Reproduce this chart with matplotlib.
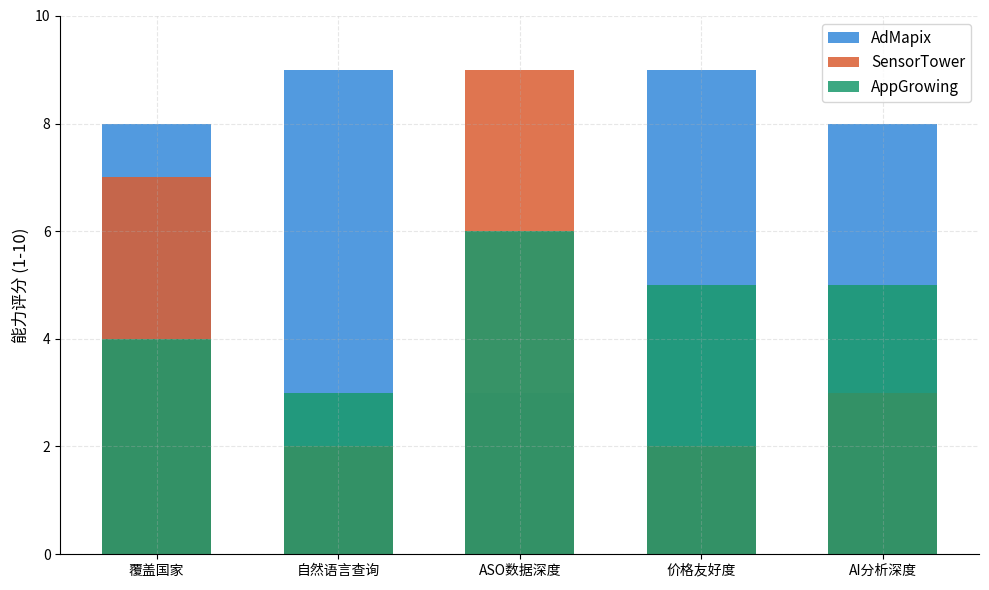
import numpy as np
import matplotlib.pyplot as plt

plt.rcParams['font.family'] = ['Noto Sans CJK SC', 'DejaVu Sans']

categories = ['覆盖国家', '自然语言查询', 'ASO数据深度', '价格友好度', 'AI分析深度']
admapix = [8, 9, 3, 9, 8]
sensortower = [7, 2, 9, 2, 3]
appgrowing = [4, 3, 6, 5, 5]

x = np.arange(len(categories))
w = 0.6

fig, ax = plt.subplots(figsize=(9.89, 5.90), dpi=100)
ax.bar(x, admapix, w, color='#3488DA', alpha=0.85, label='AdMapix')
ax.bar(x, sensortower, w, color='#DA5D31', alpha=0.85, label='SensorTower')
ax.bar(x, appgrowing, w, color='#1A996C', alpha=0.85, label='AppGrowing')

ax.set_xticks(x)
ax.set_xticklabels(categories)
ax.set_ylim(0, 10)
ax.set_ylabel('能力评分 (1-10)', fontsize=12)
ax.grid(True, linestyle='--', alpha=0.3)
ax.spines['top'].set_visible(False)
ax.spines['right'].set_visible(False)
ax.legend(loc='upper right', fontsize=11)

fig.subplots_adjust(left=0.061, right=0.99, top=0.973, bottom=0.061)
plt.savefig('out.png')
